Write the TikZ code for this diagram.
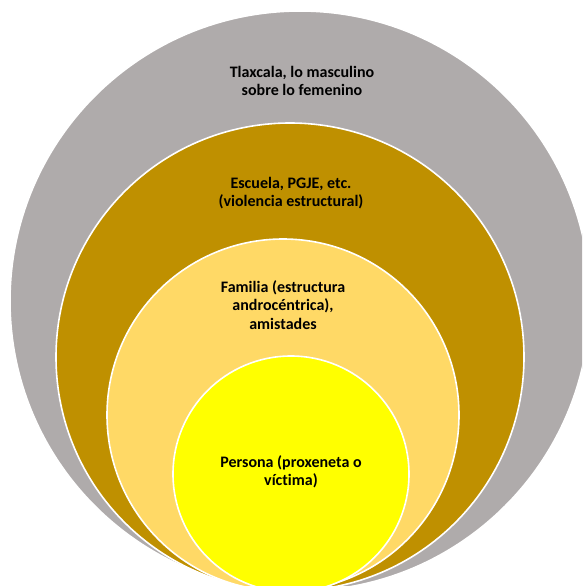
\documentclass[tikz,border=0pt]{standalone}
\usepackage{fontspec}
\setmainfont[Ligatures=NoCommon]{Carlito}
\definecolor{outergray}{HTML}{AFABAB}
\definecolor{schoolgold}{HTML}{BF9000}
\definecolor{familygold}{HTML}{FFD966}
\definecolor{personyellow}{HTML}{FFFF00}
\begin{document}
\begin{tikzpicture}[x=1pt, y=-1pt,
  ring/.style={circle, draw=white, line width=1.6pt, inner sep=0pt, outer sep=0pt},
  caption/.style={align=center, font=\fontsize{16}{18.5}\selectfont\bfseries, text=black, inner sep=0pt}]
  \useasboundingbox (0,0) rectangle (582,586);
  \clip (0,0) rectangle (582,586);
  \node[ring, fill=outergray, minimum size=580pt] (tlaxcala) at (300,301) {};
  \node[ring, fill=schoolgold, minimum size=468pt] (escuela) at (290,357) {};
  \node[ring, fill=familygold, minimum size=352pt] (familia) at (283,415) {};
  \node[ring, fill=personyellow, minimum size=236pt] (persona) at (291,474) {};
  \node[caption] (tlaxcalatext) at (302,81) {Tlaxcala, lo masculino\\sobre lo femenino};
  \node[caption] (escuelatext) at (291,193) {Escuela, PGJE, etc.\\(violencia estructural)};
  \node[caption] (familiatext) at (283,305) {Familia (estructura\\androcéntrica),\\amistades};
  \node[caption] (personatext) at (291,472) {Persona (proxeneta o\\víctima)};
\end{tikzpicture}
\end{document}
